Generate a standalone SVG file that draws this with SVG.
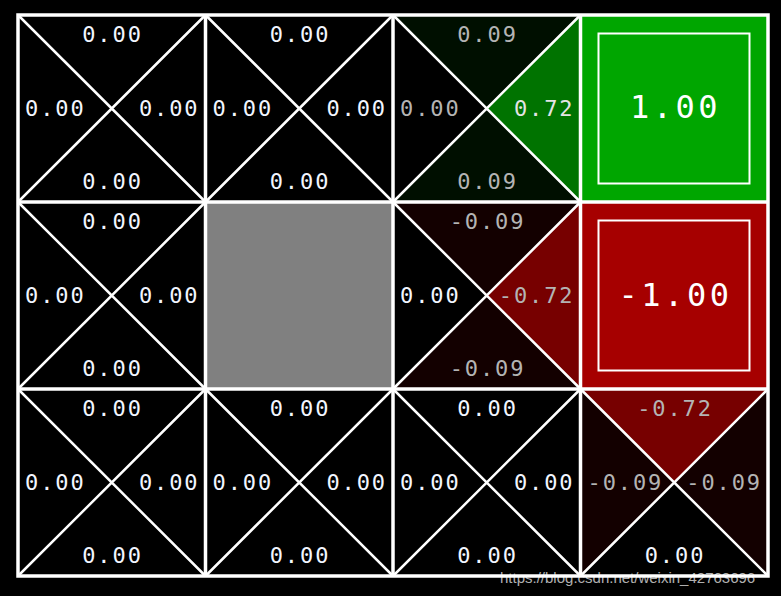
<svg xmlns="http://www.w3.org/2000/svg" width="781" height="596" viewBox="0 0 781 596">
<style>
.t{font-family:"DejaVu Sans Mono","Liberation Mono",monospace;font-size:22px;letter-spacing:1.9px;fill:#f2f6ff}
.g{fill:#b4b4b4}
.l{fill:#e4e4e4}
.m{text-anchor:middle}
.e{text-anchor:end}
.big{font-family:"DejaVu Sans Mono","Liberation Mono",monospace;font-size:32px;letter-spacing:3.5px;fill:#ffffff;text-anchor:middle}
.d{stroke:#fff;stroke-width:2.5;fill:none}
.box{fill:none;stroke:#fff;stroke-width:2}
.grid{stroke:#fff;stroke-width:3.5;fill:none}
</style>
<rect width="781" height="596" fill="#000"/>

<!-- Row 0 -->
<g id="c00">
<path class="d" d="M18 15L205.5 202M205.5 15L18 202"/>
<text class="t m" x="112.5" y="42">0.00</text>
<text class="t" x="25" y="116">0.00</text>
<text class="t e" x="199.5" y="116">0.00</text>
<text class="t m" x="112.5" y="189">0.00</text>
</g>
<g id="c01">
<path class="d" d="M205.5 15L393 202M393 15L205.5 202"/>
<text class="t m" x="300" y="42">0.00</text>
<text class="t" x="212.5" y="116">0.00</text>
<text class="t e" x="387" y="116">0.00</text>
<text class="t m" x="300" y="189">0.00</text>
</g>
<g id="c02">
<polygon points="393,15 580.5,15 486.75,108.5" fill="#000f00"/>
<polygon points="393,202 580.5,202 486.75,108.5" fill="#000f00"/>
<polygon points="580.5,15 580.5,202 486.75,108.5" fill="#007300"/>
<path class="d" d="M393 15L580.5 202M580.5 15L393 202"/>
<text class="t m g" x="487.5" y="42">0.09</text>
<text class="t g" x="400" y="116">0.00</text>
<text class="t e l" x="574.5" y="116">0.72</text>
<text class="t m g" x="487.5" y="189">0.09</text>
</g>
<g id="c03">
<rect x="580.5" y="15" width="187.5" height="187" fill="#00a600"/>
<rect class="box" x="598.5" y="33.5" width="151" height="150"/>
<text class="big" x="675.5" y="118">1.00</text>
</g>

<!-- Row 1 -->
<g id="c10">
<path class="d" d="M18 202L205.5 389M205.5 202L18 389"/>
<text class="t m" x="112.5" y="229">0.00</text>
<text class="t" x="25" y="303">0.00</text>
<text class="t e" x="199.5" y="303">0.00</text>
<text class="t m" x="112.5" y="376">0.00</text>
</g>
<g id="c11">
<rect x="205.5" y="202" width="187.5" height="187" fill="#808080"/>
</g>
<g id="c12">
<polygon points="393,202 580.5,202 486.75,295.5" fill="#130000"/>
<polygon points="393,389 580.5,389 486.75,295.5" fill="#130000"/>
<polygon points="580.5,202 580.5,389 486.75,295.5" fill="#770000"/>
<path class="d" d="M393 202L580.5 389M580.5 202L393 389"/>
<text class="t m g" x="487.5" y="229">-0.09</text>
<text class="t" x="400" y="303">0.00</text>
<text class="t e g" x="574.5" y="303">-0.72</text>
<text class="t m g" x="487.5" y="376">-0.09</text>
</g>
<g id="c13">
<rect x="580.5" y="202" width="187.5" height="187" fill="#a60000"/>
<rect class="box" x="598.5" y="220.5" width="151" height="150"/>
<text class="big" x="675.5" y="306">-1.00</text>
</g>

<!-- Row 2 -->
<g id="c20">
<path class="d" d="M18 389L205.5 576M205.5 389L18 576"/>
<text class="t m" x="112.5" y="416">0.00</text>
<text class="t" x="25" y="490">0.00</text>
<text class="t e" x="199.5" y="490">0.00</text>
<text class="t m" x="112.5" y="563">0.00</text>
</g>
<g id="c21">
<path class="d" d="M205.5 389L393 576M393 389L205.5 576"/>
<text class="t m" x="300" y="416">0.00</text>
<text class="t" x="212.5" y="490">0.00</text>
<text class="t e" x="387" y="490">0.00</text>
<text class="t m" x="300" y="563">0.00</text>
</g>
<g id="c22">
<path class="d" d="M393 389L580.5 576M580.5 389L393 576"/>
<text class="t m" x="487.5" y="416">0.00</text>
<text class="t" x="400" y="490">0.00</text>
<text class="t e" x="574.5" y="490">0.00</text>
<text class="t m" x="487.5" y="563">0.00</text>
</g>
<g id="c23">
<polygon points="580.5,389 768,389 674.25,482.5" fill="#770000"/>
<polygon points="580.5,389 580.5,576 674.25,482.5" fill="#130000"/>
<polygon points="768,389 768,576 674.25,482.5" fill="#130000"/>
<path class="d" d="M580.5 389L768 576M768 389L580.5 576"/>
<text class="t m g" x="675" y="416">-0.72</text>
<text class="t g" x="587.5" y="490">-0.09</text>
<text class="t e g" x="762" y="490">-0.09</text>
<text class="t m" x="675" y="563">0.00</text>
</g>

<g id="connectors">
<path class="grid" d="M18 15H768V576H18ZM205.5 15V576M393 15V576M580.5 15V576M18 202H768M18 389H768"/>
</g>

<text x="500" y="583" font-family="Liberation Sans, Arial, sans-serif" font-size="15" fill="#ffffff" fill-opacity="0.7">https://blog.csdn.net/weixin_42763696</text>
</svg>
